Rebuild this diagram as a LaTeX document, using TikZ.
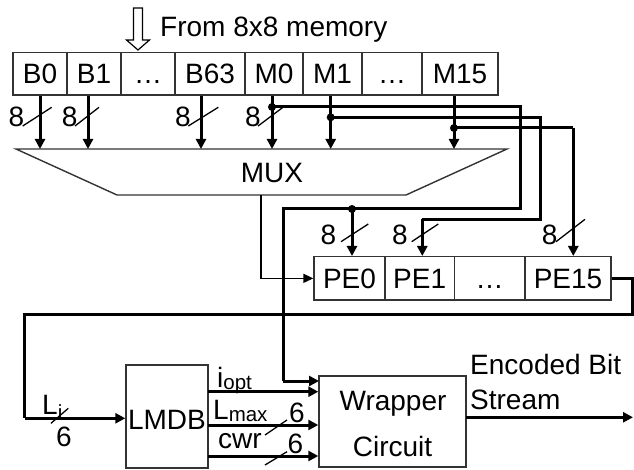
\documentclass[tikz,border=0pt]{standalone}
\usepackage{fontspec}
\setmainfont{Liberation Sans}
\usetikzlibrary{arrows.meta}
\begin{document}
\begin{tikzpicture}[x=1pt,y=-1pt,
  txt/.style={inner sep=0pt, font=\fontsize{28}{32}\selectfont},
  cell/.style={draw=black!80, line width=1.4pt, inner sep=0pt, minimum height=42.3pt,
    text height=20pt, text depth=0pt, font=\fontsize{28}{32}\selectfont},
  bus/.style={line width=3pt, -{Triangle[length=10pt,width=10pt]}},
  busl/.style={line width=3pt},
  tarr/.style={line width=1.5pt, -{Triangle[length=10pt,width=9pt]}},
  slash/.style={line width=1.3pt},
  dot/.style={circle, fill, inner sep=0pt, minimum size=8pt}
]
\useasboundingbox (0,0) rectangle (634,470);

% hollow input arrow and caption
\draw[line width=1.2pt, fill=white] (133.5,8) -- (142.5,8) -- (142.5,40) -- (149.5,40)
  -- (138,50) -- (126.5,40) -- (133.5,40) -- cycle;
\node[txt, anchor=base west] (from) at (160,37) {From 8x8 memory};

% top register cells
\node[cell, minimum width=54pt] (b0)  at (40,73.9)    {B0};
\node[cell, minimum width=54pt] (b1)  at (94,73.9)    {B1};
\node[cell, minimum width=54pt] (bd)  at (148,73.9)   {…};
\node[cell, minimum width=70pt] (b63) at (210,73.9)   {B63};
\node[cell, minimum width=58pt] (m0)  at (274,73.9)   {M0};
\node[cell, minimum width=59pt] (m1)  at (332.5,73.9) {M1};
\node[cell, minimum width=60pt] (md)  at (392,73.9)   {…};
\node[cell, minimum width=76pt] (m15) at (460,73.9)   {M15};

% MUX
\draw[draw=black!80, line width=1.4pt] (16,149) -- (507,149) -- (406,195) -- (117,195) -- cycle;
\node[txt, text height=20pt, text depth=0pt] (mux) at (272,172.3) {MUX};
\coordinate (muxT) at (0,149);
\coordinate (muxO) at (261,195);

% arrows into MUX
\coordinate (a0) at (b0.south);
\coordinate (a1) at ([xshift=-6pt]b1.south);
\coordinate (a63) at ([xshift=-9pt]b63.south);
\coordinate (am0) at ([xshift=-2pt]m0.south);
\coordinate (am1) at ([xshift=-1.8pt]m1.south);
\coordinate (am15) at ([xshift=-6pt]m15.south);
\foreach \a in {a0,a1,a63,am0,am1,am15} {
  \draw[bus] (\a) -- (\a |- muxT);
}

% width labels on MUX inputs
\node[txt, anchor=base] (w0) at (16.3,127) {8};
\node[txt, anchor=base] (w1) at (69.7,127) {8};
\node[txt, anchor=base] (w63) at (183,127) {8};
\node[txt, anchor=base] (wm0) at (253,127) {8};
\draw[slash] (22.7,126) -- (51.7,107.3);
\draw[slash] (75,126) -- (99,107.3);
\draw[slash] (188.3,126) -- (218.3,107.3);
\draw[slash] (258,126) -- (283,107.3);

% PE cells
\node[cell, minimum width=71pt, minimum height=43.3pt]   (pe0)  at (349.5,278.35)  {PE0};
\node[cell, minimum width=69.3pt, minimum height=43.3pt] (pe1)  at (419.65,278.35) {PE1};
\node[cell, minimum width=70.7pt, minimum height=43.3pt] (ped)  at (489.65,278.35) {…};
\node[cell, minimum width=86pt, minimum height=43.3pt]   (pe15) at (568,278.35)    {PE15};

% LMDB and wrapper
\node[draw=black!80, line width=1.4pt, inner sep=0pt, minimum width=82pt, minimum height=103pt,
  text height=25pt, text depth=0pt, font=\fontsize{28}{32}\selectfont] (lmdb) at (167,416.5) {LMDB};
\node[draw=black!80, line width=1.4pt, inner sep=0pt, minimum width=147pt, minimum height=91pt] (wrap) at (392.5,421.5) {};
\node[txt, anchor=base] (wrapA) at (393,410) {Wrapper};
\node[txt, anchor=base] (wrapB) at (392.5,456.7) {Circuit};

% bus from M0
\node[dot] (d0) at (am0 |- 0,107) {};
\node[dot] (dpe) at (352,209) {};
\coordinate (wIn0) at (319,381);
\draw[busl] (d0.center) -- (520,107) -- (520,209) -- (283,209) -- (283,381);
\draw[bus] (283,381) -- (wIn0);
\draw[bus] (dpe.center) -- (dpe |- pe0.north);

% bus from M1
\node[dot] (d1) at (am1 |- 0,117.3) {};
\coordinate (pe1in) at ([xshift=2.65pt]pe1.north);
\draw[busl] (d1.center) -- (540.7,117.3) -- (540.7,219.3) -- (pe1in |- 0,219.3);
\draw[bus] (pe1in |- 0,219.3) -- (pe1in);

% bus from M15
\node[dot] (d15) at (am15 |- 0,128) {};
\coordinate (pe15in) at ([xshift=5.3pt]pe15.north);
\draw[busl] (d15.center) -- (pe15in |- 0,128);
\draw[bus] (pe15in |- 0,128) -- (pe15in);

% PE width labels
\node[txt, anchor=base] (wp0) at (328.5,244.5) {8};
\node[txt, anchor=base] (wp1) at (400,244.5) {8};
\node[txt, anchor=base] (wp15) at (549.7,244.5) {8};
\draw[slash] (341,241.7) -- (368.3,224);
\draw[slash] (411.7,241.7) -- (438.3,224);
\draw[slash] (556,241.7) -- (585,219.3);

% MUX output to PE0
\draw[tarr] (muxO) |- (pe0.west);

% PE15 loop back to LMDB
\coordinate (liend) at ([yshift=-1.8pt]lmdb.west);
\draw[busl] (pe15.east) -- (632,278.35) -- (632,314.5) -- (24.5,314.5) -- (24.5,418.3);
\draw[bus] (24.5,418.3) -- (liend);

% Li label
\node[txt, anchor=base west] (li) at (42,414) {L\raisebox{-5pt}{\fontsize{20.5}{22}\selectfont i}};
\node[txt, anchor=base, text height=20pt, text depth=0pt] (li6) at (64,446.5) {6};
\draw[slash] (51,423.3) -- (68.3,408.3);

% LMDB outputs to wrapper
\coordinate (io)  at (208,391.7);
\coordinate (lm)  at (208,425);
\coordinate (cw)  at (208,456);
\draw[bus] (io) -- (io -| wrap.west);
\draw[bus] (lm) -- (lm -| wrap.west);
\draw[bus] (cw) -- (cw -| wrap.west);
\node[txt, anchor=base west] (iopt) at (217,387) {i\raisebox{-2pt}{\fontsize{20.5}{22}\selectfont opt}};
\node[txt, anchor=base west] (lmax) at (213,419) {L\raisebox{-2pt}{\fontsize{20.5}{22}\selectfont max}};
\node[txt, anchor=base west] (cwr) at (218,448.3) {cwr};
\node[txt, anchor=base] (lm6) at (297,422.5) {6};
\node[txt, anchor=base] (cw6) at (295.5,453.5) {6};
\draw[slash] (265,435) -- (287,420);
\draw[slash] (265,465) -- (287,451.7);

% output
\coordinate (wout) at (466,417.3);
\coordinate (outend) at (633,417.3);
\draw[bus] (wout) -- (outend);
\node[txt, anchor=base west] (enc1) at (470,374) {Encoded Bit};
\node[txt, anchor=base west] (enc2) at (470,409.3) {Stream};
\end{tikzpicture}
\end{document}
